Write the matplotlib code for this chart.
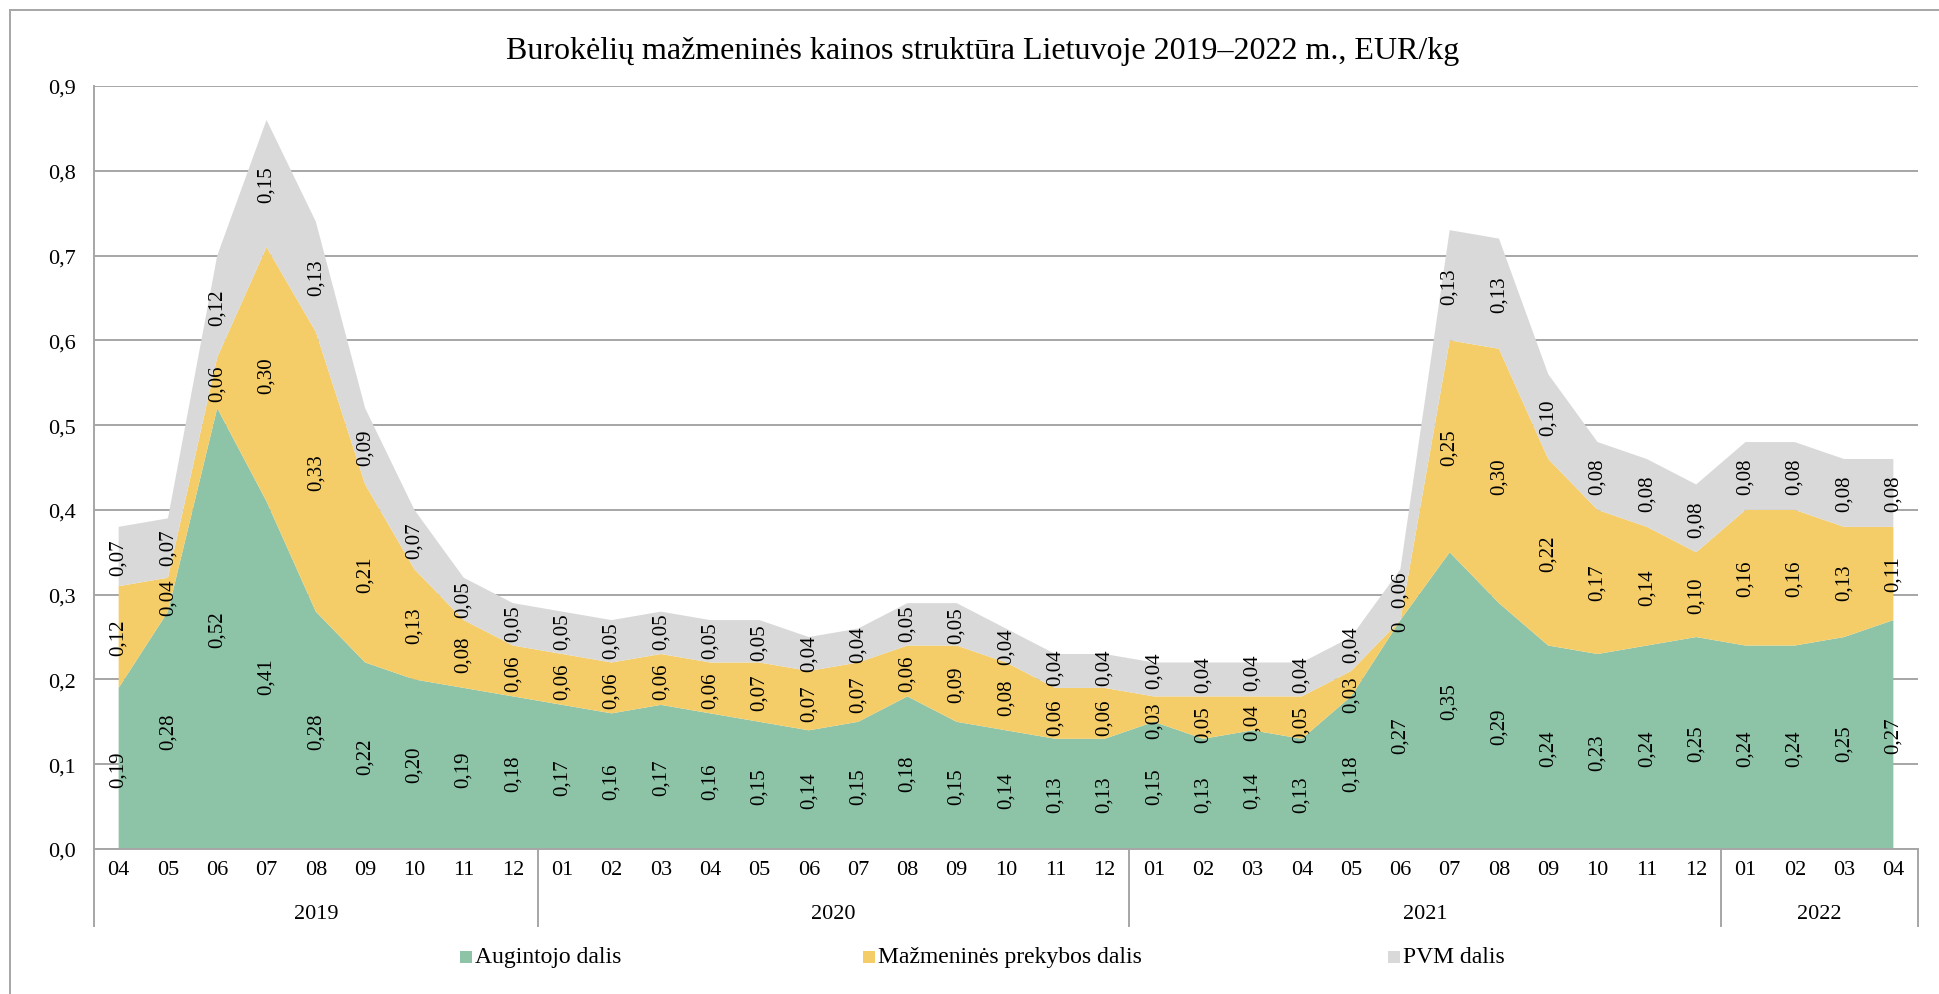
import matplotlib
matplotlib.use("Agg")
import matplotlib.pyplot as plt
from matplotlib.patches import Rectangle
from matplotlib.lines import Line2D

plt.rcParams["font.family"] = ["Liberation Serif", "DejaVu Serif"]

months = ["04", "05", "06", "07", "08", "09", "10", "11", "12",
          "01", "02", "03", "04", "05", "06", "07", "08", "09", "10", "11", "12",
          "01", "02", "03", "04", "05", "06", "07", "08", "09", "10", "11", "12",
          "01", "02", "03", "04"]
years = ["2019", "2020", "2021", "2022"]
year_lengths = [9, 12, 12, 4]

augintojo = [0.19, 0.28, 0.52, 0.41, 0.28, 0.22, 0.20, 0.19, 0.18,
             0.17, 0.16, 0.17, 0.16, 0.15, 0.14, 0.15, 0.18, 0.15, 0.14, 0.13, 0.13,
             0.15, 0.13, 0.14, 0.13, 0.18, 0.27, 0.35, 0.29, 0.24, 0.23, 0.24, 0.25,
             0.24, 0.24, 0.25, 0.27]
mazmenines = [0.12, 0.04, 0.06, 0.30, 0.33, 0.21, 0.13, 0.08, 0.06,
              0.06, 0.06, 0.06, 0.06, 0.07, 0.07, 0.07, 0.06, 0.09, 0.08, 0.06, 0.06,
              0.03, 0.05, 0.04, 0.05, 0.03, 0.0, 0.25, 0.30, 0.22, 0.17, 0.14, 0.10,
              0.16, 0.16, 0.13, 0.11]
pvm = [0.07, 0.07, 0.12, 0.15, 0.13, 0.09, 0.07, 0.05, 0.05,
       0.05, 0.05, 0.05, 0.05, 0.05, 0.04, 0.04, 0.05, 0.05, 0.04, 0.04, 0.04,
       0.04, 0.04, 0.04, 0.04, 0.04, 0.06, 0.13, 0.13, 0.10, 0.08, 0.08, 0.08,
       0.08, 0.08, 0.08, 0.08]
series_names = ["Augintojo dalis", "Mažmeninės prekybos dalis", "PVM dalis"]
colors = ["#8dc3a7", "#f5cd68", "#d9d9d9"]

W, H = 1939, 995
fig = plt.figure(figsize=(W / 100, H / 100), dpi=100)
ax = fig.add_axes([94 / W, 1 - 850 / H, (1918 - 94) / W, (850 - 87) / H])

x = list(range(len(months)))
series = [augintojo, mazmenines, pvm]
ax.stackplot(x, *series, colors=colors, linewidth=0)


def fmt(v):
    return "0" if v == 0 else f"{v:.2f}".replace(".", ",")


# data labels centred in each band, nudged apart where bands are thin
char_h = 0.0105  # rough label length per character, in data units
pad = 0.017
for i in range(len(months)):
    vals = [s[i] for s in series]
    labels = [fmt(v) for v in vals]
    lens = [len(t) * char_h for t in labels]
    centres = []
    base = 0.0
    for v in vals:
        centres.append(base + v / 2)
        base += v
    for _ in range(3):
        for k in range(1, len(centres)):
            need = (lens[k] + lens[k - 1]) / 2 + pad
            if centres[k] - centres[k - 1] < need:
                mid = (centres[k] + centres[k - 1]) / 2
                centres[k - 1] = mid - need / 2
                centres[k] = mid + need / 2
    for c, t in zip(centres, labels):
        ax.text(i, c, t, rotation=90, ha="center", va="center", fontsize=15, color="black")

ax.set_xlim(-0.5, len(months) - 0.5)
ax.set_ylim(0, 0.9)
yt = [i / 10 for i in range(10)]
ax.set_yticks(yt)
ax.set_yticklabels([f"{t:.1f}".replace(".", ",") for t in yt], fontsize=16)
ax.yaxis.grid(True, color="#a6a6a6", linewidth=1.4)
ax.set_axisbelow(True)
ax.tick_params(axis="y", length=0, pad=13)
ax.set_xticks(x)
ax.set_xticklabels(months, fontsize=16)
ax.tick_params(axis="x", length=0, pad=8)
for side in ["top", "right"]:
    ax.spines[side].set_visible(False)
ax.spines["left"].set_color("#a6a6a6")
ax.spines["bottom"].set_color("#a6a6a6")
ax.spines["left"].set_linewidth(1.4)
ax.spines["bottom"].set_linewidth(1.4)

# year group labels and separators
trans = ax.get_xaxis_transform()
start = 0
edges = [-0.5]
for year, n in zip(years, year_lengths):
    centre = start + (n - 1) / 2
    ax.text(centre, -0.085, year, transform=trans, ha="center", va="center", fontsize=16)
    start += n
    edges.append(start - 0.5)
for e in edges:
    ax.add_line(Line2D([e, e], [0, -0.101], transform=trans, color="#a6a6a6",
                       linewidth=1.4, clip_on=False))

fig.text(983 / W, 1 - 52 / H,
         "Burokėlių mažmeninės kainos struktūra Lietuvoje 2019–2022 m., EUR/kg",
         ha="center", va="center", fontsize=23)

# legend
legend_x = [460, 863, 1388]
ly = 1 - 958 / H
for lx, name, col in zip(legend_x, series_names, colors):
    fig.add_artist(Rectangle((lx / W, ly - 6 / H), 12 / W, 12 / H,
                             transform=fig.transFigure, color=col, linewidth=0))
    fig.text((lx + 15) / W, ly, name, ha="left", va="center", fontsize=17)

# chart border (left and top visible)
fig.add_artist(Line2D([10 / W, 10 / W], [0, 1 - 11 / H], transform=fig.transFigure,
                      color="#a6a6a6", linewidth=1.4))
fig.add_artist(Line2D([10 / W, 1], [1 - 11 / H, 1 - 11 / H], transform=fig.transFigure,
                      color="#a6a6a6", linewidth=1.4))

fig.savefig("out.png", dpi=100)
